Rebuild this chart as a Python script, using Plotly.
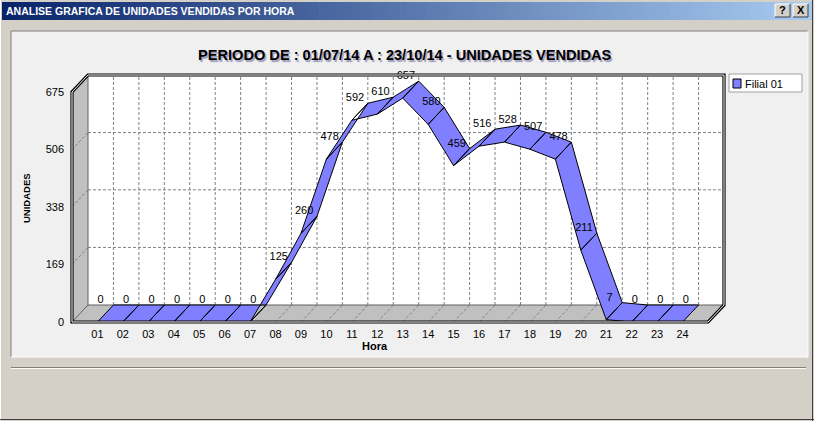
import plotly.graph_objects as go

# ---------------- data ----------------
horas = ["01", "02", "03", "04", "05", "06", "07", "08", "09", "10", "11", "12",
         "13", "14", "15", "16", "17", "18", "19", "20", "21", "22", "23", "24"]
unidades = [0, 0, 0, 0, 0, 0, 0, 125, 260, 478, 592, 610,
            657, 580, 459, 516, 528, 507, 478, 211, 7, 0, 0, 0]
y_ticks = [0, 169, 338, 506, 675]
serie_nome = "Filial 01"
titulo = "PERIODO DE : 01/07/14 A : 23/10/14 - UNIDADES VENDIDAS"
janela = "ANALISE GRAFICA DE UNIDADES VENDIDAS POR HORA"
eixo_x = "Hora"
eixo_y = "UNIDADES"

# ---------------- geometry ----------------
W, H = 814, 421
X0PX, SX = 72, 25.44          # pixel of category position 0, px per category
Y0PX, KY = 322, 230 / 675     # pixel of value 0, px per unit
NX = 25
YMAX = 675
DX = 16 / SX                   # 3D depth offset in x (data units)
DY = 17 / KY                   # 3D depth offset in y (data units)

xr = [-X0PX / SX, (W - X0PX) / SX]
yr = [-(H - Y0PX) / KY, Y0PX / KY]
xs = list(range(1, len(horas) + 1))

FONT = "Liberation Sans, Arial, sans-serif"


def px(x):
    return x / W


def py(y):
    return 1 - y / H


shapes = []


def prect(x0, y0, x1, y1, fill=None, line=None, lw=1, layer="below"):
    shapes.append(dict(type="rect", xref="paper", yref="paper",
                       x0=px(x0), x1=px(x1), y0=py(y0), y1=py(y1),
                       fillcolor=fill if fill else "rgba(0,0,0,0)",
                       line=dict(color=line if line else "rgba(0,0,0,0)", width=lw if line else 0),
                       layer=layer))


def pline(x0, y0, x1, y1, color, lw=1, layer="below"):
    shapes.append(dict(type="line", xref="paper", yref="paper",
                       x0=px(x0), x1=px(x1), y0=py(y0), y1=py(y1),
                       line=dict(color=color, width=lw), layer=layer))


def dline(x0, y0, x1, y1, color, lw=1, dash=None, layer="below"):
    shapes.append(dict(type="line", xref="x", yref="y", x0=x0, x1=x1, y0=y0, y1=y1,
                       line=dict(color=color, width=lw, dash=dash) if dash else dict(color=color, width=lw),
                       layer=layer))


def dpath(pts, fill=None, line=None, lw=1, layer="below"):
    d = "M " + " L ".join(f"{a},{b}" for a, b in pts) + " Z"
    shapes.append(dict(type="path", xref="x", yref="y", path=d,
                       fillcolor=fill if fill else "rgba(0,0,0,0)",
                       line=dict(color=line if line else "rgba(0,0,0,0)", width=lw if line else 0),
                       layer=layer))


# ---------------- window chrome ----------------
# title bar gradient
c0 = (10, 36, 106)
c1 = (166, 202, 240)
n = 120
for k in range(n):
    t = k / (n - 1)
    col = "rgb(%d,%d,%d)" % tuple(round(c0[j] + (c1[j] - c0[j]) * t) for j in range(3))
    prect(2 + k * (810 / n), 2, 2 + (k + 1) * (810 / n) + 0.6, 20, fill=col)

# title bar buttons
for bx in (775, 793):
    prect(bx, 4, bx + 15, 17, fill="#D4D0C8")
    pline(bx, 4, bx + 15, 4, "#FFFFFF")
    pline(bx, 4, bx, 17, "#FFFFFF")
    pline(bx, 17, bx + 15, 17, "#404040")
    pline(bx + 15, 4, bx + 15, 17, "#404040")

# window frame
pline(0.5, 0, 0.5, H, "#FFFFFF")
pline(W - 1.5, 0, W - 1.5, H, "#404040")
pline(0, H - 1.5, W, H - 1.5, "#404040")

# panel
prect(11, 31, 808, 357, fill="#F0F0F0")
pline(11, 31, 808, 31, "#808080")
pline(11, 31, 11, 357, "#808080")
pline(11, 357, 808, 357, "#FFFFFF")
pline(808, 31, 808, 357, "#FFFFFF")

# separator
pline(11, 367.5, 806, 367.5, "#808080")
pline(11, 368.6, 806, 368.6, "#FFFFFF")

# ---------------- 3D chart box ----------------
# back wall
dpath([(DX, DY), (NX + DX, DY), (NX + DX, YMAX + DY), (DX, YMAX + DY)], fill="#FFFFFF")
# left wall
dpath([(0, 0), (0, YMAX), (DX, YMAX + DY), (DX, DY)], fill="#C0C0C0")
# floor
dpath([(0, 0), (NX, 0), (NX + DX, DY), (DX, DY)], fill="#C0C0C0")

GRID = "#808080"
DASH = "3px,2px"
# back wall gridlines
for v in y_ticks[1:-1]:
    dline(DX, v + DY, NX + DX, v + DY, GRID, 1, DASH)
for i in xs:
    dline(i + DX, DY, i + DX, YMAX + DY, GRID, 1, DASH)
# left wall diagonals
for v in y_ticks[1:-1]:
    dline(0, v, DX, v + DY, GRID, 1, DASH)
# floor diagonals
for i in xs:
    dline(i, 0, i + DX, DY, GRID, 1, DASH)

# inner edges
dline(DX, DY, DX, YMAX + DY, "#606060", 1)
dline(DX, DY, NX + DX, DY, "#606060", 1)
dline(0, 0, DX, DY, "#606060", 1)

# outer silhouette double line
sil = [(0, 0), (NX, 0), (NX + DX, DY), (NX + DX, YMAX + DY), (DX, YMAX + DY), (0, YMAX)]
dpath(sil, line="#000000", lw=3.2, layer="above")
dpath(sil, line="#FFFFFF", lw=1, layer="above")

# ---------------- legend box ----------------
prect(729, 74, 802, 92, fill="#FFFFFF", line="#A0A0A0", layer="above")
prect(733, 79, 741, 88, fill="#7F7FFF", line="#000000", layer="above")

# ---------------- traces ----------------
rx, ry = [], []
for j in range(len(unidades) - 1):
    xa, xb = xs[j], xs[j + 1]
    ya, yb = unidades[j], unidades[j + 1]
    rx += [xa, xb, xb + DX, xa + DX, xa, None]
    ry += [ya, yb, yb + DY, ya + DY, ya, None]

fig = go.Figure()
fig.add_trace(go.Scatter(x=rx, y=ry, mode="lines", fill="toself", fillcolor="#7F7FFF",
                         line=dict(color="#000000", width=1), name=serie_nome,
                         showlegend=False, hoverinfo="skip"))
fig.add_trace(go.Scatter(x=[x + DX * 0.2 for x in xs], y=[v + 64 for v in unidades],
                         mode="text", text=[str(v) for v in unidades],
                         textposition="middle center",
                         textfont=dict(family=FONT, size=11, color="#000000"),
                         showlegend=False, hoverinfo="skip"))

annotations = [
    dict(text="<b>" + janela + "</b>", xref="paper", yref="paper", x=px(4), y=py(11),
         xanchor="left", yanchor="middle", showarrow=False,
         font=dict(family=FONT, size=10.5, color="#FFFFFF")),
    dict(text="<b>?</b>", xref="paper", yref="paper", x=px(782.5), y=py(10.5),
         xanchor="center", yanchor="middle", showarrow=False,
         font=dict(family=FONT, size=11, color="#000000")),
    dict(text="<b>X</b>", xref="paper", yref="paper", x=px(800.5), y=py(10.5),
         xanchor="center", yanchor="middle", showarrow=False,
         font=dict(family=FONT, size=11, color="#000000")),
    dict(text="<b>" + titulo + "</b>", xref="paper", yref="paper", x=px(405), y=py(55),
         xanchor="center", yanchor="middle", showarrow=False,
         font=dict(family=FONT, size=14.6, color="#000000",
                   shadow="1.5px 1.5px 1px #9A9AB8")),
    dict(text="<b>" + eixo_x + "</b>", xref="paper", yref="paper", x=px(375), y=py(346),
         xanchor="center", yanchor="middle", showarrow=False,
         font=dict(family=FONT, size=11, color="#000000")),
    dict(text="<b>" + eixo_y + "</b>", xref="paper", yref="paper", x=px(26), y=py(198),
         xanchor="center", yanchor="middle", showarrow=False, textangle=-90,
         font=dict(family=FONT, size=9.5, color="#000000")),
    dict(text=serie_nome, xref="paper", yref="paper", x=px(743), y=py(83.5),
         xanchor="left", yanchor="middle", showarrow=False,
         font=dict(family=FONT, size=11, color="#000000")),
]

fig.update_layout(
    width=W, height=H, margin=dict(l=0, r=0, t=0, b=0),
    paper_bgcolor="#D4D0C8", plot_bgcolor="rgba(0,0,0,0)",
    showlegend=False,
    xaxis=dict(range=xr, domain=[0, 1], anchor="free", position=py(Y0PX),
               tickmode="array", tickvals=xs, ticktext=horas,
               showgrid=False, zeroline=False, showline=False, ticks="",
               ticklabelstandoff=4,
               tickfont=dict(family=FONT, size=11, color="#000000"), fixedrange=True),
    yaxis=dict(range=yr, domain=[0, 1], anchor="free", position=px(X0PX),
               tickmode="array", tickvals=y_ticks, ticktext=[str(v) for v in y_ticks],
               showgrid=False, zeroline=False, showline=False, ticks="",
               ticklabelstandoff=8,
               tickfont=dict(family=FONT, size=11, color="#000000"), fixedrange=True),
    shapes=shapes,
    annotations=annotations,
)

fig.write_html("out.html", config={"displayModeBar": False},
               post_script="document.body.style.margin='0';document.body.style.overflow='hidden';")
